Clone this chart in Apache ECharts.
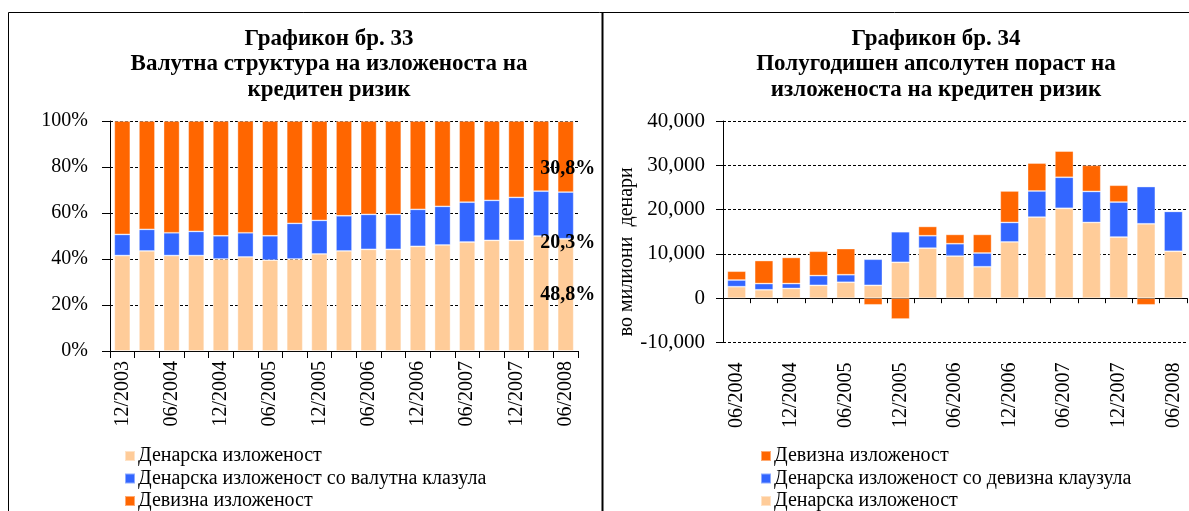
<!DOCTYPE html>
<html>
<head>
<meta charset="utf-8">
<script src="https://cdn.jsdelivr.net/npm/echarts@6/dist/echarts.min.js"></script>
<style>
  html, body { margin: 0; padding: 0; background: #fff; }
  #chart { width: 1189px; height: 511px; }
</style>
</head>
<body>
<div id="chart"></div>
<script>
// Графикон 33 - квартали, учество во %
var leftCats = ['12/2003','03/2004','06/2004','09/2004','12/2004','03/2005','06/2005','09/2005','12/2005',
  '03/2006','06/2006','09/2006','12/2006','03/2007','06/2007','09/2007','12/2007','03/2008','06/2008'];
var denarShare  = [41.5,43.5,41.5,41.5,40.0,40.9,39.5,40.0,42.2,43.5,44.2,44.2,45.5,46.1,47.4,48.1,48.1,50.0,48.8];
var clauseShare = [9.2,9.4,9.9,10.5,10.1,10.5,10.6,15.5,14.6,15.3,15.2,15.2,16.1,16.8,17.3,17.4,18.7,19.5,20.3];
var fxShare     = [49.3,47.1,48.6,48.0,49.9,48.6,49.9,44.5,43.2,41.2,40.6,40.6,38.4,37.1,35.3,34.5,33.2,30.5,30.8];
var leftTicks = [0, 20, 40, 60, 80, 100];

// Графикон 34 - полугодишен пораст, милиони денари
var rightCats = ['06/2004','09/2004','12/2004','03/2005','06/2005','09/2005','12/2005','03/2006','06/2006',
  '09/2006','12/2006','03/2007','06/2007','09/2007','12/2007','03/2008','06/2008'];
var denarGrowth  = [2600,1900,2200,2900,3600,2900,8100,11300,9500,7100,12700,18300,20300,17100,13800,16800,10600];
var clauseGrowth = [1500,1400,1100,2200,1700,5900,6900,2800,2800,3100,4400,5900,7000,7000,7900,8400,9000];
var fxGrowth     = [2000,5200,5900,5500,5900,-1500,-4700,2100,2100,4200,7100,6300,5900,5900,3800,-1500,0];
var rightTicks = [-10000, 0, 10000, 20000, 30000, 40000];

var C_DENAR = '#FFCC99', C_CLAUSE = '#3366FF', C_FX = '#FF6600';
var SERIF = '"Liberation Serif", "Times New Roman", serif';

var N_DENAR = 'Денарска изложеност';
var N_CLAUSE_L = 'Денарска изложеност со валутна клазула';
var N_CLAUSE_R = 'Денарска изложеност со девизна клаузула';
var N_FX = 'Девизна изложеност';

var myChart = echarts.init(document.getElementById('chart'));

var axisBlack = { lineStyle: { color: '#000', width: 1 } };
var dashed = { show: true, lineStyle: { color: '#000', type: [3, 2], width: 1 } };

function lastLabel(offset) {
  return {
    show: true,
    position: 'inside',
    offset: offset,
    color: '#000',
    fontFamily: SERIF,
    fontWeight: 'bold',
    fontSize: 20,
    formatter: function (p) {
      if (p.dataIndex !== leftCats.length - 1) return '';
      return p.value.toFixed(1).replace('.', ',') + '%';
    }
  };
}

// one legend per row, Excel puts them at fixed line positions
function legendRow(name, left, top) {
  return {
    orient: 'vertical', left: left, top: top, padding: 0,
    itemWidth: 10, itemHeight: 10, icon: 'rect',
    textStyle: { fontFamily: SERIF, fontSize: 20, color: '#000', padding: [0, 0, 0, -2] },
    data: [name]
  };
}

var barBorder = { borderColor: 'rgba(255,255,255,0.45)', borderWidth: 0.8 };
var titleStyle = { fontFamily: SERIF, fontWeight: 'bold', fontSize: 23, lineHeight: 25.5, color: '#000' };

myChart.setOption({
  animation: false,
  textStyle: { fontFamily: SERIF, color: '#000' },
  title: [
    {
      text: 'Графикон бр. 33\nВалутна структура на изложеноста на\nкредитен ризик',
      left: 324, top: 21, textAlign: 'center', textStyle: titleStyle
    },
    {
      text: 'Графикон бр. 34\nПолугодишен апсолутен пораст на\nизложеноста на кредитен ризик',
      left: 931, top: 21, textAlign: 'center', textStyle: titleStyle
    }
  ],
  legend: [
    legendRow(N_DENAR, 124, 446),
    legendRow(N_CLAUSE_L, 124, 468.5),
    legendRow(N_FX, 124, 491),
    legendRow(N_FX, 760, 446),
    legendRow(N_CLAUSE_R, 760, 468.5),
    legendRow(N_DENAR, 760, 491)
  ],
  grid: [
    { left: 110, right: 611, top: 121, bottom: 160 },
    { left: 723, right: 2, top: 121, bottom: 168.5 }
  ],
  xAxis: [
    {
      type: 'category', gridIndex: 0, data: leftCats,
      axisLine: axisBlack,
      axisTick: { show: true, interval: 0, length: 7, lineStyle: { color: '#000' } },
      axisLabel: { interval: 1, rotate: 90, fontSize: 20, color: '#000', fontFamily: SERIF, margin: 10 }
    },
    {
      type: 'category', gridIndex: 1, data: rightCats,
      axisLine: { onZero: true, lineStyle: { color: '#000', width: 1 } },
      axisTick: { show: true, interval: 0, length: 5, lineStyle: { color: '#000' } },
      axisLabel: { show: false }
    },
    {
      type: 'category', gridIndex: 1, data: rightCats, position: 'bottom',
      axisLine: { show: false, onZero: false },
      axisTick: { show: false },
      axisLabel: { interval: 1, rotate: 90, fontSize: 20, color: '#000', fontFamily: SERIF, margin: 20 }
    }
  ],
  yAxis: [
    {
      type: 'value', gridIndex: 0,
      min: leftTicks[0], max: leftTicks[leftTicks.length - 1], interval: leftTicks[1] - leftTicks[0],
      axisLine: { show: true, lineStyle: { color: '#000', width: 1 } },
      axisTick: { show: true, length: 8, lineStyle: { color: '#000' } },
      axisLabel: { formatter: '{value}%', fontSize: 20, color: '#000', fontFamily: SERIF, margin: 22 },
      splitLine: dashed
    },
    {
      type: 'value', gridIndex: 1,
      min: rightTicks[0], max: rightTicks[rightTicks.length - 1], interval: rightTicks[1] - rightTicks[0],
      axisLine: { show: true, onZero: false, lineStyle: { color: '#000', width: 1 } },
      axisTick: { show: true, length: 7, lineStyle: { color: '#000' } },
      axisLabel: {
        fontSize: 21, color: '#000', fontFamily: SERIF, margin: 18,
        formatter: function (v) { return v.toLocaleString('en-US'); }
      },
      splitLine: dashed,
      name: 'во милиони  денари', nameLocation: 'middle', nameGap: 86, nameRotate: 90,
      nameTextStyle: { fontSize: 20, color: '#000', fontFamily: SERIF, padding: [0, 40, 0, 0] }
    }
  ],
  series: [
    {
      name: N_DENAR, type: 'bar', stack: 'l', xAxisIndex: 0, yAxisIndex: 0,
      data: denarShare, barCategoryGap: '35%',
      itemStyle: Object.assign({ color: C_DENAR }, barBorder),
      label: lastLabel([2, 0])
    },
    {
      name: N_CLAUSE_L, type: 'bar', stack: 'l', xAxisIndex: 0, yAxisIndex: 0,
      data: clauseShare, barCategoryGap: '35%',
      itemStyle: Object.assign({ color: C_CLAUSE }, barBorder),
      label: lastLabel([2, 27])
    },
    {
      name: N_FX, type: 'bar', stack: 'l', xAxisIndex: 0, yAxisIndex: 0,
      data: fxShare, barCategoryGap: '35%',
      itemStyle: Object.assign({ color: C_FX }, barBorder),
      label: lastLabel([2, 12])
    },
    {
      name: N_DENAR, type: 'bar', stack: 'r', xAxisIndex: 1, yAxisIndex: 1,
      data: denarGrowth, barCategoryGap: '32%',
      itemStyle: Object.assign({ color: C_DENAR }, barBorder)
    },
    {
      name: N_CLAUSE_R, type: 'bar', stack: 'r', xAxisIndex: 1, yAxisIndex: 1,
      data: clauseGrowth, barCategoryGap: '32%',
      itemStyle: Object.assign({ color: C_CLAUSE }, barBorder)
    },
    {
      name: N_FX, type: 'bar', stack: 'r', xAxisIndex: 1, yAxisIndex: 1,
      data: fxGrowth, barCategoryGap: '32%',
      itemStyle: Object.assign({ color: C_FX }, barBorder)
    }
  ],
  graphic: [
    { type: 'rect', shape: { x: 8.5, y: 12.5, width: 1200, height: 600 }, style: { fill: null, stroke: '#000', lineWidth: 1 }, silent: true },
    { type: 'line', shape: { x1: 602.5, y1: 12, x2: 602.5, y2: 511 }, style: { stroke: '#000', lineWidth: 2 }, silent: true }
  ]
});

window.addEventListener('resize', function () { myChart.resize(); });
</script>
</body>
</html>
